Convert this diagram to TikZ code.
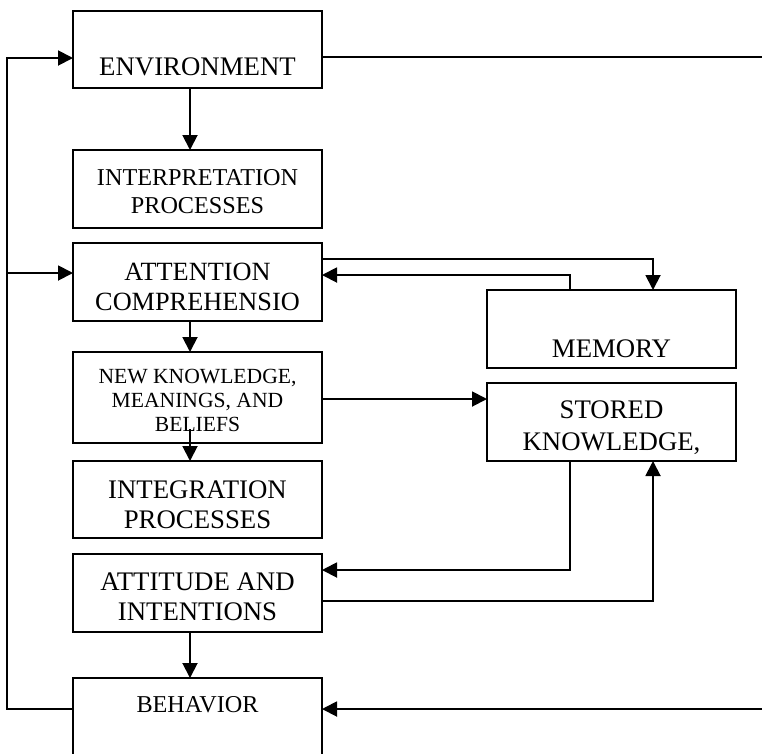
\documentclass[tikz,border=0pt]{standalone}
\usepackage{fontspec}
\setmainfont{Liberation Serif}
\usetikzlibrary{arrows.meta}
% centred block of lines; its baseline is that of the first line
\newcommand\boxlines[3]{{\fontsize{#1}{#2}\selectfont\begin{tabular}[t]{@{}c@{}}#3\end{tabular}}}
\begin{document}
\begin{tikzpicture}[x=1pt,y=-1pt,
  box/.style={draw, line width=1.9pt, inner sep=0pt, outer sep=0pt, minimum width=249pt},
  lbl/.style={anchor=base, inner sep=0pt},
  link/.style={line width=1.9pt},
  arr/.style={link, -{Triangle[length=15pt,width=15pt]}},
  ]
\clip (0,0) rectangle (762,753);

% main column
\node[box, minimum height=77pt]  (env)    at (197.5,49.5)  {};
\node[box, minimum height=78pt]  (interp) at (197.5,189)   {};
\node[box, minimum height=78pt]  (attn)   at (197.5,282)   {};
\node[box, minimum height=91pt]  (newk)   at (197.5,397.5) {};
\node[box, minimum height=77pt]  (integ)  at (197.5,499.5) {};
\node[box, minimum height=78pt]  (att)    at (197.5,593)   {};
\node[box, minimum height=112pt] (beh)    at (197.5,734)   {};
% memory column
\node[box, minimum height=78pt]  (mem)    at (611.5,329)   {};
\node[box, minimum height=78pt]  (stored) at (611.5,422)   {};

% labels
\node[lbl] (envtxt)    at (197.5,75)  {\boxlines{26.8}{30}{ENVIRONMENT}};
\node[lbl] (interptxt) at (197.5,185) {\boxlines{24.2}{28}{INTERPRETATION\\PROCESSES}};
\node[lbl] (attntxt)   at (197.5,280) {\boxlines{26.3}{30}{ATTENTION\\COMPREHENSIO}};
\node[lbl] (newktxt)   at (197.5,383) {\boxlines{21.6}{24}{NEW KNOWLEDGE,\\MEANINGS, AND\\BELIEFS}};
\node[lbl] (integtxt)  at (197.5,498) {\boxlines{26.8}{30}{INTEGRATION\\PROCESSES}};
\node[lbl] (atttxt)    at (197.5,590) {\boxlines{26.8}{30}{ATTITUDE AND\\INTENTIONS}};
\node[lbl] (behtxt)    at (197.5,712) {\boxlines{24.2}{28}{BEHAVIOR}};
\node[lbl] (memtxt)    at (611.5,357) {\boxlines{26.8}{30}{MEMORY}};
\node[lbl] (storedtxt) at (611.5,418) {\boxlines{26.8}{32}{STORED\\KNOWLEDGE,}};

% guide coordinates
\coordinate (sx)  at (190,0);   % spine of the main column
\coordinate (lx)  at (7,0);     % left feedback line
\coordinate (rx)  at (762,0);   % right edge
\coordinate (mx1) at (570,0);
\coordinate (mx2) at (653,0);
\coordinate (yEnvL)  at (0,58);
\coordinate (yEnvR)  at (0,57);
\coordinate (yAttnO) at (0,259);
\coordinate (yAttnL) at (0,273);
\coordinate (yAttnI) at (0,275);
\coordinate (yNewk)  at (0,399);
\coordinate (yAttI)  at (0,570);
\coordinate (yAttO)  at (0,601);
\coordinate (yBeh)   at (0,709);
\coordinate (nkin)   at (190,429);

% downward flow
\draw[arr] (env.south -| sx) -- (interp.north -| sx);
\draw[arr] (attn.south -| sx) -- (newk.north -| sx);
\draw[arr] (nkin) -- (integ.north -| nkin);
\draw[arr] (att.south -| sx) -- (beh.north -| sx);

% feedback on the left
\draw[arr] (beh.west |- yBeh) -- (lx |- yBeh) -- (lx |- yEnvL) -- (env.west |- yEnvL);
\draw[arr] (lx |- yAttnL) -- (attn.west |- yAttnL);

% lines to the right edge
\draw[link] (env.east |- yEnvR) -- (rx |- yEnvR);
\draw[arr] (rx |- yBeh) -- (beh.east |- yBeh);

% memory links
\draw[arr] (attn.east |- yAttnO) -| (mem.north -| mx2);
\draw[arr] (mem.north -| mx1) |- (attn.east |- yAttnI);
\draw[arr] (newk.east |- yNewk) -- (stored.west |- yNewk);
\draw[arr] (stored.south -| mx1) |- (att.east |- yAttI);
\draw[arr] (att.east |- yAttO) -| (stored.south -| mx2);
\end{tikzpicture}
\end{document}
